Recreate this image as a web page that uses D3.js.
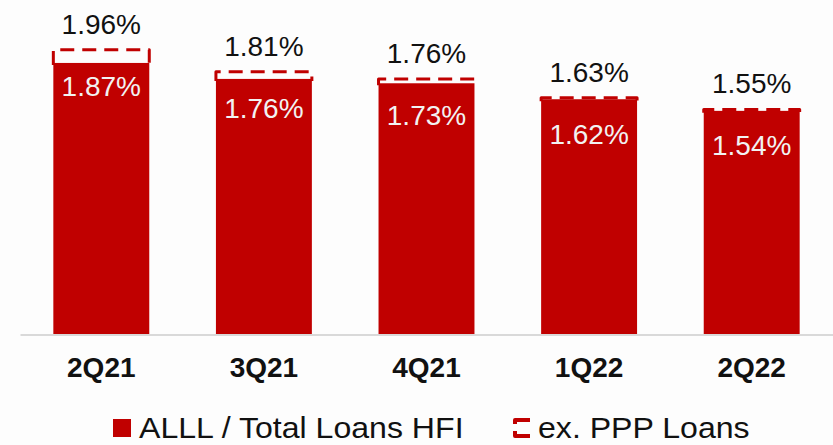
<!DOCTYPE html>
<html lang="en">
<head>
<meta charset="UTF-8">
<title>ALLL / Total Loans HFI</title>
<script src="https://d3js.org/d3.v7.min.js"></script>
<style>
  body { margin: 0; background: #fdfdfd; }
  text { font-family: "Liberation Sans", Arial, sans-serif; }
</style>
</head>
<body>
<div id="chart"></div>
<script>
// data
const quarters = ["2Q21", "3Q21", "4Q21", "1Q22", "2Q22"];
const alllRatio = [1.87, 1.76, 1.73, 1.62, 1.54];
const exPPPRatio = [1.96, 1.81, 1.76, 1.63, 1.55];
const legendLabels = ["ALLL / Total Loans HFI", "ex. PPP Loans"];

const width = 833, height = 445;
const red = "#c00000";
const baseY = 334.5;

const svg = d3.select("#chart").append("svg")
  .attr("width", width)
  .attr("height", height);

svg.append("rect").attr("width", width).attr("height", height).attr("fill", "#fdfdfd");

const x = d3.scaleBand()
  .domain(quarters)
  .range([20, 833])
  .paddingInner(0.41)
  .paddingOuter(0.205);

const y = d3.scaleLinear()
  .domain([0, 2.3])
  .range([baseY, 0.5]);

// bars
svg.selectAll("rect.bar")
  .data(quarters)
  .join("rect")
  .attr("class", "bar")
  .attr("x", d => x(d))
  .attr("y", (d, i) => y(alllRatio[i]))
  .attr("width", x.bandwidth())
  .attr("height", (d, i) => y(0) - y(alllRatio[i]))
  .attr("fill", red);

// dashed outline for ex. PPP values
svg.selectAll("path.ppp")
  .data(quarters)
  .join("path")
  .attr("class", "ppp")
  .attr("d", (d, i) => {
    const x0 = x(d), x1 = x(d) + x.bandwidth();
    const yt = y(exPPPRatio[i]), yb = y(alllRatio[i]) + 2;
    return `M${x0},${yb}V${yt}H${x1}V${yb}`;
  })
  .attr("fill", "none")
  .attr("stroke", red)
  .attr("stroke-width", 3)
  .attr("stroke-linejoin", "round")
  .attr("stroke-dasharray", "14 8");

// value labels
svg.selectAll("text.top")
  .data(quarters)
  .join("text")
  .attr("class", "top")
  .attr("x", d => x(d) + x.bandwidth() / 2)
  .attr("y", (d, i) => y(exPPPRatio[i]) - 16)
  .attr("text-anchor", "middle")
  .attr("font-size", 28)
  .attr("fill", "#111")
  .text((d, i) => exPPPRatio[i].toFixed(2) + "%");

svg.selectAll("text.inner")
  .data(quarters)
  .join("text")
  .attr("class", "inner")
  .attr("x", d => x(d) + x.bandwidth() / 2)
  .attr("y", (d, i) => y(exPPPRatio[i]) + 46)
  .attr("text-anchor", "middle")
  .attr("font-size", 28)
  .attr("fill", "#f2f2f2")
  .text((d, i) => alllRatio[i].toFixed(2) + "%");

// x axis
const xAxis = svg.append("g")
  .attr("transform", `translate(0,${baseY})`)
  .call(d3.axisBottom(x).tickSize(0).tickPadding(23).tickSizeOuter(0));
xAxis.select(".domain").attr("stroke", "#d9d9d9").attr("stroke-width", 2);
xAxis.selectAll(".tick text")
  .attr("font-size", 28)
  .attr("font-weight", "bold")
  .attr("fill", "#111")
  .style("font-family", "'Liberation Sans', Arial, sans-serif");

// legend
const legend = svg.append("g");
legend.append("rect")
  .attr("x", 113).attr("y", 419)
  .attr("width", 18).attr("height", 18)
  .attr("fill", red);
legend.append("text")
  .attr("transform", "translate(139,438) scale(1.07,1)")
  .attr("font-size", 30)
  .attr("fill", "#111")
  .text(legendLabels[0]);
legend.append("path")
  .attr("d", "M530,420H515V436H530")
  .attr("fill", "none")
  .attr("stroke", red)
  .attr("stroke-width", 4)
  .attr("stroke-linejoin", "round")
  .attr("stroke-dasharray", "19 7 30");
legend.append("text")
  .attr("transform", "translate(538,438) scale(1.07,1)")
  .attr("font-size", 30)
  .attr("fill", "#111")
  .text(legendLabels[1]);
</script>
</body>
</html>
